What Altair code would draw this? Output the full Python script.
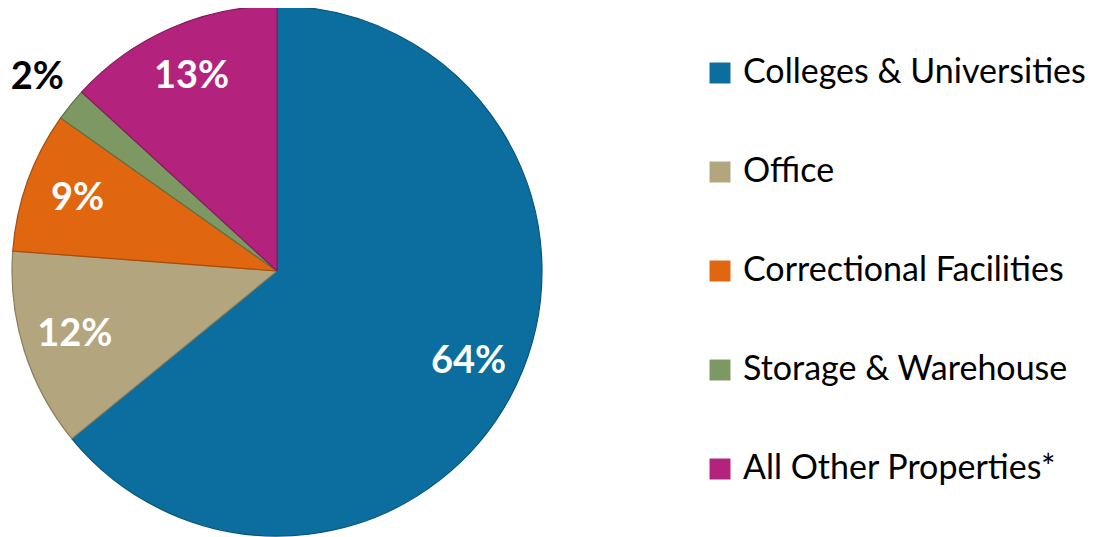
import altair as alt
import pandas as pd

categories = ["Colleges & Universities", "Office", "Correctional Facilities",
              "Storage & Warehouse", "All Other Properties*"]
shares = [64.1, 12.1, 8.6, 2.0, 13.2]
labels = ["64%", "12%", "9%", "2%", "13%"]
inside = [True, True, True, False, True]
colors = ["#0b6e9e", "#b3a67e", "#e0660f", "#7d9862", "#b3237e"]
strokes = ["#075578", "#8a7e5c", "#a84c0a", "#5c7248", "#861a5e"]

df = pd.DataFrame({
    "cat": categories,
    "share": shares,
    "label": labels,
    "ord": list(range(len(categories))),
    "inside": inside,
})

CX, CY = 269, 263
R = 265

base = alt.Chart(df).encode(
    theta=alt.Theta("share:Q", stack=True),
    order=alt.Order("ord:Q", sort="ascending"),
    x=alt.value(CX),
    y=alt.value(CY),
)

pie = base.mark_arc(radius=R, strokeWidth=1.2).encode(
    color=alt.Color(
        "cat:N",
        scale=alt.Scale(domain=categories, range=colors),
        sort=categories,
        legend=alt.Legend(
            title=None,
            orient="none",
            legendX=695,
            legendY=48,
            symbolType="square",
            symbolSize=440,
            symbolStrokeWidth=0,
            labelFontSize=34,
            labelFont="Lato",
            labelColor="#000000",
            labelOffset=6,
            rowPadding=65,
            labelLimit=500,
        ),
    ),
    stroke=alt.Stroke("cat:N", scale=alt.Scale(domain=categories, range=strokes), legend=None),
)

inner = base.transform_calculate(
    txt="datum.inside ? datum.label : ''"
).mark_text(radius=212, font="Lato", fontWeight="bold", fontSize=38,
            color="white", align="center", baseline="middle").encode(
    text="txt:N"
)

outer = base.transform_calculate(
    txt="datum.inside ? '' : datum.label"
).mark_text(radius=308, font="Lato", fontWeight="bold", fontSize=38,
            color="black", align="center", baseline="middle").encode(
    text="txt:N"
)

chart = alt.layer(pie, inner, outer).properties(
    width=1081, height=529,
    autosize=alt.AutoSizeParams(type="none"),
    padding=0,
).configure(background="white").configure_view(stroke=None)

chart.save("out.html", embed_options={"renderer": "svg", "actions": False})
